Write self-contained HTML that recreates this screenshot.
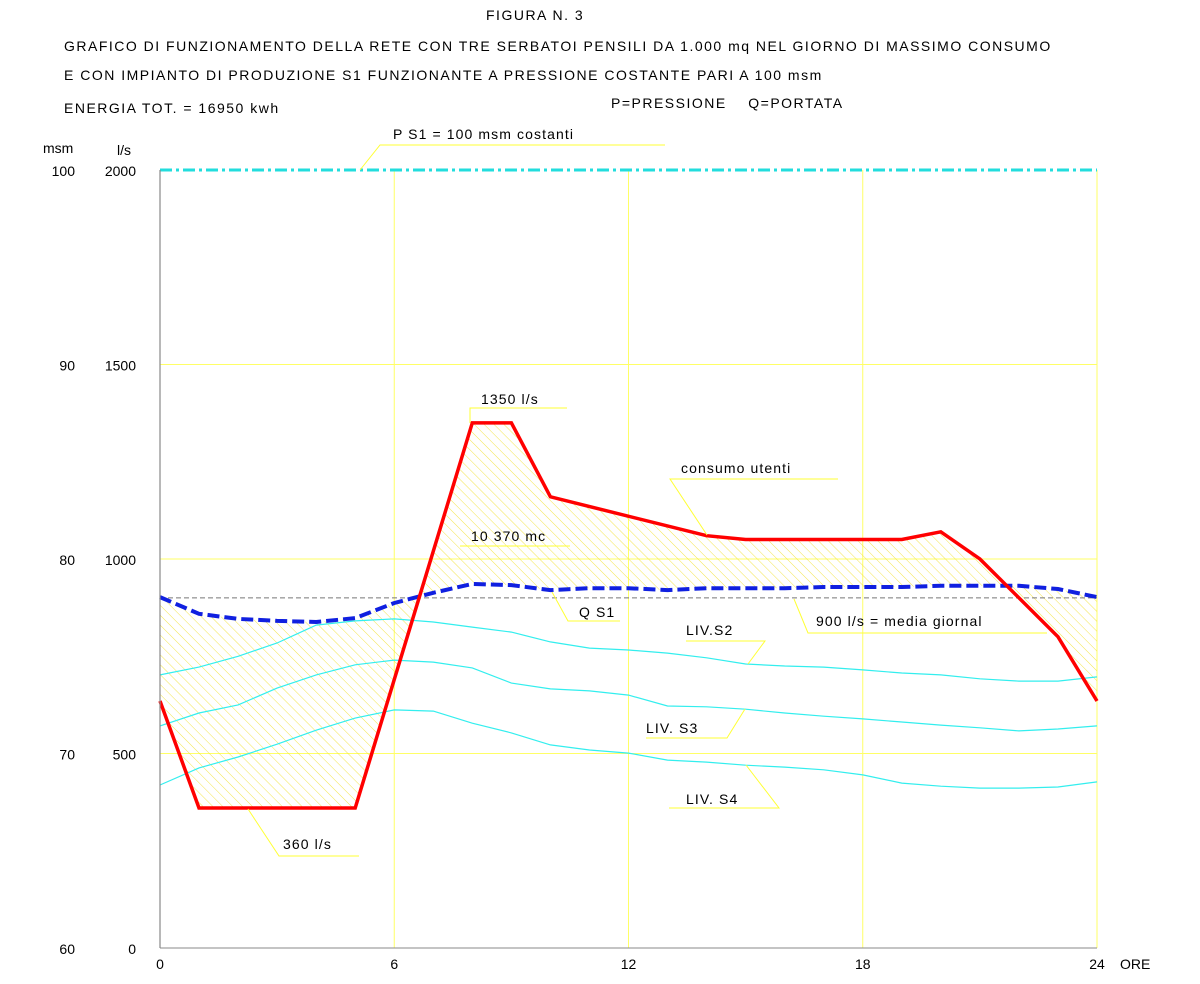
<!DOCTYPE html>
<html><head><meta charset="utf-8"><style>
body{margin:0;background:#fff;}
svg text{font-family:"Liberation Sans",Arial,sans-serif;font-size:14px;fill:#000;}
#notes text{letter-spacing:1.1px;}
#titles text{letter-spacing:1.5px;}
</style></head><body>
<svg id="chart" width="1200" height="979" viewBox="0 0 1200 979" xmlns="http://www.w3.org/2000/svg">
<defs>
<pattern id="hatch" patternUnits="userSpaceOnUse" width="7" height="7" patternTransform="rotate(-45)">
<line x1="0" y1="0" x2="0" y2="7" stroke="#f2e23a" stroke-width="0.9"/>
</pattern>
</defs>
<g id="titles">
<text x="486" y="20">FIGURA N. 3</text>
<text x="64" y="51">GRAFICO DI FUNZIONAMENTO DELLA RETE CON TRE SERBATOI PENSILI DA 1.000 mq NEL GIORNO DI MASSIMO CONSUMO</text>
<text x="64" y="80">E CON IMPIANTO DI PRODUZIONE S1 FUNZIONANTE A PRESSIONE COSTANTE PARI A 100 msm</text>
<text x="64" y="113">ENERGIA TOT. = 16950 kwh</text>
<text x="611" y="108">P=PRESSIONE&#160;&#160;&#160;&#160;Q=PORTATA</text>
</g>
<g id="grid"></g>
<g id="fill"></g>
<g id="series"></g>
<g id="axes"></g>
<g id="notes"></g>
</svg>
<script>
const xTicks=[0,6,12,18,24];
const yTicksLs=[0,500,1000,1500,2000];
const yTicksMsm=[60,70,80,90,100];
const redHours=[0,1,5,8,9,10,14,15,19,20,21,23,24];
const consumo=[635,360,360,1350,1350,1160,1060,1050,1050,1070,1000,800,635];
const hours=[0,1,2,3,4,5,6,7,8,9,10,11,12,13,14,15,16,17,18,19,20,21,22,23,24];
const qs1=[902,859,846,841,838,848,887,913,936,933,920,925,925,920,925,925,925,928,928,928,931,931,931,923,902];
const livS2=[702,722,750,784,830,841,846,838,825,812,787,771,766,758,746,730,725,722,715,707,702,692,686,686,697];
const livS3=[571,604,625,668,702,728,740,735,720,681,666,661,650,622,620,614,604,596,589,581,573,566,558,563,571];
const livS4=[419,463,491,524,560,591,612,609,578,553,522,509,501,483,478,470,465,458,445,424,416,411,411,414,427];
const media=900;
const pConst=2000;

const X=h=>160+h*(937/24);
const Y=v=>948-v*0.389;
const NS='http://www.w3.org/2000/svg';
function mk(parent,tag,attrs){const e=document.createElementNS(NS,tag);for(const k in attrs)e.setAttribute(k,attrs[k]);document.getElementById(parent).appendChild(e);return e;}
function pts(xs,vs){return xs.map((h,i)=>X(h).toFixed(1)+','+Y(vs[i]).toFixed(1)).join(' ');}

xTicks.slice(1).forEach(h=>{
  const l=mk('grid','line',{x1:X(h),y1:170,x2:X(h),y2:948,stroke:'#ffff66','stroke-width':1});
  
  
});
yTicksLs.slice(1,4).forEach(v=>{
  const l=mk('grid','line',{x1:160,y1:Y(v),x2:1097,y2:Y(v),stroke:'#ffff66','stroke-width':1});
  
  
});

{
  const fwd=redHours.map((h,i)=>X(h)+','+Y(consumo[i]));
  const back=hours.slice().reverse().map((h,j)=>{const i=hours.length-1-j;return X(h)+','+Y(qs1[i]);});
  const p=mk('fill','polygon',{points:fwd.concat(back).join(' '),fill:'url(#hatch)'});
  
  
}

[[livS2,'liv-s2-line'],[livS3,'liv-s3-line'],[livS4,'liv-s4-line']].forEach(([d,n])=>{
  const l=mk('series','polyline',{points:pts(hours,d),fill:'none',stroke:'#33eeee','stroke-width':1.2});
  
  
});
{
  const l=mk('series','line',{x1:160,y1:Y(media),x2:1097,y2:Y(media),stroke:'#777','stroke-width':1,'stroke-dasharray':'5,3'});
  
  
}
{
  const l=mk('series','line',{x1:160,y1:Y(pConst),x2:1097,y2:Y(pConst),stroke:'#22dddd','stroke-width':3,'stroke-dasharray':'12,4,3,4'});
  
  
}
{
  const l=mk('series','polyline',{points:pts(hours,qs1),fill:'none',stroke:'#1020e0','stroke-width':4,'stroke-dasharray':'12,5'});
  
  
}
{
  const l=mk('series','polyline',{points:pts(redHours,consumo),fill:'none',stroke:'#ff0000','stroke-width':3.5,'stroke-linejoin':'miter'});
  
  
}

{
  const a=mk('axes','line',{x1:160,y1:170,x2:160,y2:948,stroke:'#888','stroke-width':1.2});
  
  
  const b=mk('axes','line',{x1:160,y1:948,x2:1097,y2:948,stroke:'#888','stroke-width':1});
  
  
}
function txt(parent,x,y,s,name,anchor){const t=mk(parent,'text',{x:x,y:y});if(anchor)t.setAttribute('text-anchor',anchor);t.textContent=s;return t;}
xTicks.forEach(h=>txt('axes',X(h),969,String(h),'x-tick-'+h,'middle'));
txt('axes',1120,969,'ORE','x-axis-title');
yTicksLs.forEach((v,i)=>{
  txt('axes',136,Y(v)+6,String(v),'y-tick-ls-'+v,'end');
  txt('axes',75,Y(v)+6,String(yTicksMsm[i]),'y-tick-msm-'+yTicksMsm[i],'end');
});
txt('axes',43,153,'msm','y-axis-title-msm');
txt('axes',117,155,'l/s','y-axis-title-ls');

// [text, tx, ty, ux1, ux2, uy, leaderX, leaderY, name, leaderFromRight]
const notes=[
 ['P S1 = 100 msm costanti',393,139,380,665,145,360,170,'label-pressure',false],
 ['1350 l/s',481,404,470,567,408,470,423,'label-1350',false],
 ['consumo utenti',681,473,670,838,479,707,535,'label-consumo',false],
 ['10 370 mc',471,541,460,570,546,null,null,'label-volume',false],
 ['Q S1',579,617,568,620,621,552,592,'label-qs1',false],
 ['900 l/s = media giornal',816,626,808,1047,633,794,599,'label-media',false],
 ['LIV.S2',686,635,686,765,641,748,664,'label-liv-s2',true],
 ['LIV. S3',646,733,646,727,738,745,709,'label-liv-s3',true],
 ['LIV. S4',686,804,669,779,808,746,765,'label-liv-s4',true],
 ['360 l/s',283,849,279,359,856,248,809,'label-360',false]
];
notes.forEach(n=>{
  txt('notes',n[1],n[2],n[0],n[8]);
  let p;
  if(n[6]===null) p=n[3]+','+n[5]+' '+n[4]+','+n[5];
  else if(n[9]) p=n[3]+','+n[5]+' '+n[4]+','+n[5]+' '+n[6]+','+n[7];
  else p=n[6]+','+n[7]+' '+n[3]+','+n[5]+' '+n[4]+','+n[5];
  const u=mk('notes','polyline',{points:p,fill:'none',stroke:'#ffff33','stroke-width':1});
  
  
});
</script>
</body></html>
